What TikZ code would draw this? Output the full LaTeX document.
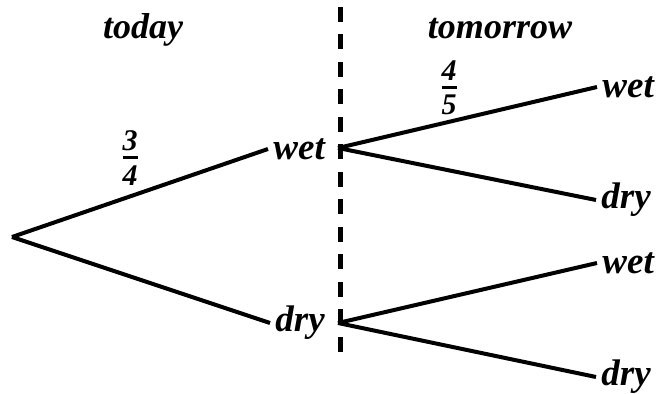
\documentclass[tikz,border=0pt]{standalone}
\usepackage{amsmath}
\usepackage{fontspec}
\setmainfont{Liberation Serif}
\usepackage{tikz}
\usetikzlibrary{positioning}

\newcommand{\probfrac}[2]{\ensuremath{\genfrac{}{}{1.5pt}{1}%
    {\mbox{\vrule depth 1.2pt width 0pt #1}}%
    {\mbox{\vrule height 11.4pt width 0pt #2}}}}

\begin{document}
\begin{tikzpicture}[x=0.5pt, y=-0.5pt,
    lbl/.style={font=\fontsize{18.5}{22}\selectfont\bfseries\itshape,
                inner xsep=2.5pt, inner ysep=0pt},
    head/.style={font=\fontsize{18}{21}\selectfont\bfseries\itshape, inner sep=0pt},
    prob/.style={font=\fontsize{15}{18}\selectfont\bfseries\itshape, inner sep=0pt},
    branch/.style={line width=2pt},
    divider/.style={line width=2.5pt, dash pattern=on 7.5pt off 6.25pt},
]
    \useasboundingbox (0,0) rectangle (658,394);

    % headings and the day divider
    \node[head, anchor=base] (today) at (143,39) {today};
    \node[head, anchor=base] (tomorrow) at (500,39) {tomorrow};
    \draw[divider] (340,7) -- (340,353);

    % today
    \coordinate (root) at (12,237);
    \node[lbl, anchor=west] (wet1) at (268,149) {wet};
    \node[lbl, anchor=west] (dry1) at (270,323) {dry};
    \coordinate (fwet) at (338,148);
    \coordinate (fdry) at (338,323);

    % tomorrow
    \node[lbl, anchor=west] (wet2) at (597,87) {wet};
    \node[lbl, anchor=west] (dry2) at (596,200) {dry};
    \node[lbl, anchor=west] (wet3) at (597,263) {wet};
    \node[lbl, anchor=west] (dry3) at (596,377) {dry};

    \draw[branch] (root) -- (wet1.west);
    \draw[branch] (root) -- (dry1.west);
    \draw[branch] (fwet) -- (wet2.west);
    \draw[branch] (fwet) -- (dry2.west);
    \draw[branch] (fdry) -- (wet3.west);
    \draw[branch] (fdry) -- (dry3.west);

    % probabilities
    \node[prob] (p34) at (130,158) {\probfrac{3}{4}};
    \node[prob] (p45) at (449,88) {\probfrac{4}{5}};
\end{tikzpicture}
\end{document}
